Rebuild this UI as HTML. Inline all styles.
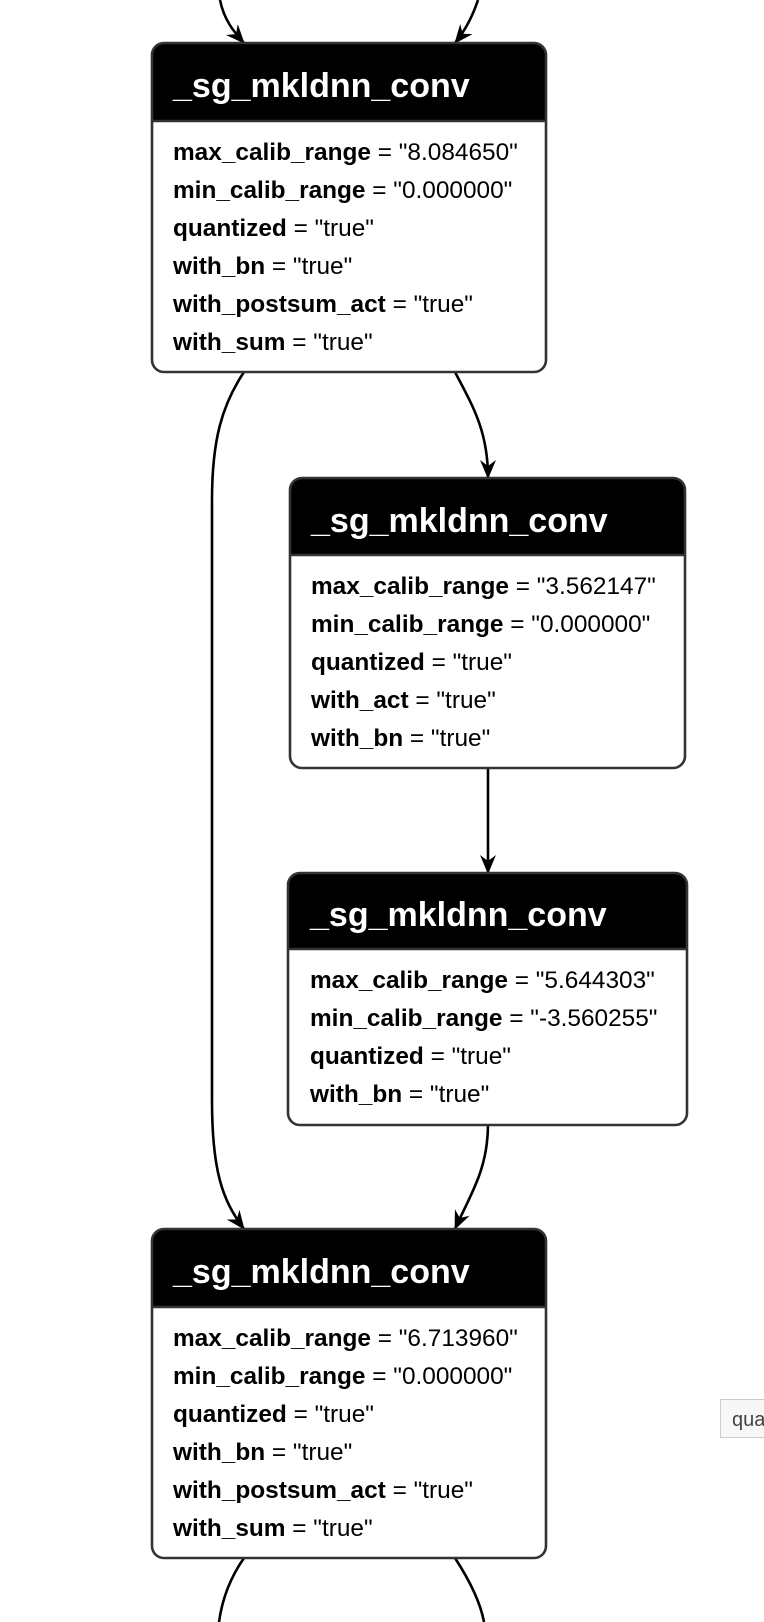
<!DOCTYPE html>
<html><head><meta charset="utf-8"><style>
html,body{margin:0;padding:0;background:#fff;width:764px;height:1622px;overflow:hidden}
svg{display:block}
.t{font-family:"Liberation Sans",Arial,sans-serif;font-weight:bold;font-size:34px;fill:#fff}
.r{font-family:"Liberation Sans",Arial,sans-serif;font-size:24.4px;fill:#000}
.r tspan.b{font-weight:bold}
.e{fill:none;stroke:#000;stroke-width:2.6}
</style></head><body>
<svg width="764" height="1622" viewBox="0 0 764 1622" xmlns="http://www.w3.org/2000/svg">
<defs>
<marker id="a" viewBox="0 0 20 20" refX="18" refY="10" markerWidth="20" markerHeight="20" markerUnits="userSpaceOnUse" orient="auto">
<path d="M0,2 L19,10 L0,18 L6,10 Z" fill="#000"/>
</marker>
</defs>
<path class="e" d="M220,0 C224,20 234,32 244,43" marker-end="url(#a)"/>
<path class="e" d="M478,0 C472,18 464,32 455,43" marker-end="url(#a)"/>
<path class="e" d="M244,372 C222,405 212,440 212,500 L212,1100 C212,1170 222,1200 244,1229" marker-end="url(#a)"/>
<path class="e" d="M455,372 C472,405 488,430 488,478" marker-end="url(#a)"/>
<path class="e" d="M488,768 L488,873" marker-end="url(#a)"/>
<path class="e" d="M488,1124 C488,1170 470,1195 455,1229" marker-end="url(#a)"/>
<path class="e" d="M244,1558 C230,1578 222,1600 219,1622"/>
<path class="e" d="M455,1558 C468,1578 480,1600 484,1622"/>

<g>
<path d="M152,121 L152,55 Q152,43 164,43 L534,43 Q546,43 546,55 L546,121 Z" fill="#000"/>
<rect x="152" y="43" width="394" height="329" rx="12" fill="none" stroke="#333" stroke-width="2.6"/>
<line x1="152" y1="121" x2="546" y2="121" stroke="#333" stroke-width="2.6"/>
<text class="t" x="173" y="97">_sg_mkldnn_conv</text>
<text class="r" x="173" y="160"><tspan class="b">max_calib_range</tspan> = "8.084650"</text>
<text class="r" x="173" y="198"><tspan class="b">min_calib_range</tspan> = "0.000000"</text>
<text class="r" x="173" y="236"><tspan class="b">quantized</tspan> = "true"</text>
<text class="r" x="173" y="274"><tspan class="b">with_bn</tspan> = "true"</text>
<text class="r" x="173" y="312"><tspan class="b">with_postsum_act</tspan> = "true"</text>
<text class="r" x="173" y="350"><tspan class="b">with_sum</tspan> = "true"</text>
</g>

<g>
<path d="M290,555 L290,490 Q290,478 302,478 L673,478 Q685,478 685,490 L685,555 Z" fill="#000"/>
<rect x="290" y="478" width="395" height="290" rx="12" fill="none" stroke="#333" stroke-width="2.6"/>
<line x1="290" y1="555" x2="685" y2="555" stroke="#333" stroke-width="2.6"/>
<text class="t" x="311" y="532">_sg_mkldnn_conv</text>
<text class="r" x="311" y="594"><tspan class="b">max_calib_range</tspan> = "3.562147"</text>
<text class="r" x="311" y="632"><tspan class="b">min_calib_range</tspan> = "0.000000"</text>
<text class="r" x="311" y="670"><tspan class="b">quantized</tspan> = "true"</text>
<text class="r" x="311" y="708"><tspan class="b">with_act</tspan> = "true"</text>
<text class="r" x="311" y="746"><tspan class="b">with_bn</tspan> = "true"</text>
</g>

<g>
<path d="M288,949 L288,885 Q288,873 300,873 L675,873 Q687,873 687,885 L687,949 Z" fill="#000"/>
<rect x="288" y="873" width="399" height="252" rx="12" fill="none" stroke="#333" stroke-width="2.6"/>
<line x1="288" y1="949" x2="687" y2="949" stroke="#333" stroke-width="2.6"/>
<text class="t" x="310" y="926">_sg_mkldnn_conv</text>
<text class="r" x="310" y="988"><tspan class="b">max_calib_range</tspan> = "5.644303"</text>
<text class="r" x="310" y="1026"><tspan class="b">min_calib_range</tspan> = "-3.560255"</text>
<text class="r" x="310" y="1064"><tspan class="b">quantized</tspan> = "true"</text>
<text class="r" x="310" y="1102"><tspan class="b">with_bn</tspan> = "true"</text>
</g>

<g>
<path d="M152,1307 L152,1241 Q152,1229 164,1229 L534,1229 Q546,1229 546,1241 L546,1307 Z" fill="#000"/>
<rect x="152" y="1229" width="394" height="329" rx="12" fill="none" stroke="#333" stroke-width="2.6"/>
<line x1="152" y1="1307" x2="546" y2="1307" stroke="#333" stroke-width="2.6"/>
<text class="t" x="173" y="1283">_sg_mkldnn_conv</text>
<text class="r" x="173" y="1346"><tspan class="b">max_calib_range</tspan> = "6.713960"</text>
<text class="r" x="173" y="1384"><tspan class="b">min_calib_range</tspan> = "0.000000"</text>
<text class="r" x="173" y="1422"><tspan class="b">quantized</tspan> = "true"</text>
<text class="r" x="173" y="1460"><tspan class="b">with_bn</tspan> = "true"</text>
<text class="r" x="173" y="1498"><tspan class="b">with_postsum_act</tspan> = "true"</text>
<text class="r" x="173" y="1536"><tspan class="b">with_sum</tspan> = "true"</text>
</g>

<rect x="720.5" y="1399.5" width="60" height="38" fill="#f7f7f7" stroke="#ccc" stroke-width="1"/>
<text x="732" y="1426" font-family="Liberation Sans, Arial, sans-serif" font-size="20" fill="#444">qua</text>
</svg>
</body></html>
